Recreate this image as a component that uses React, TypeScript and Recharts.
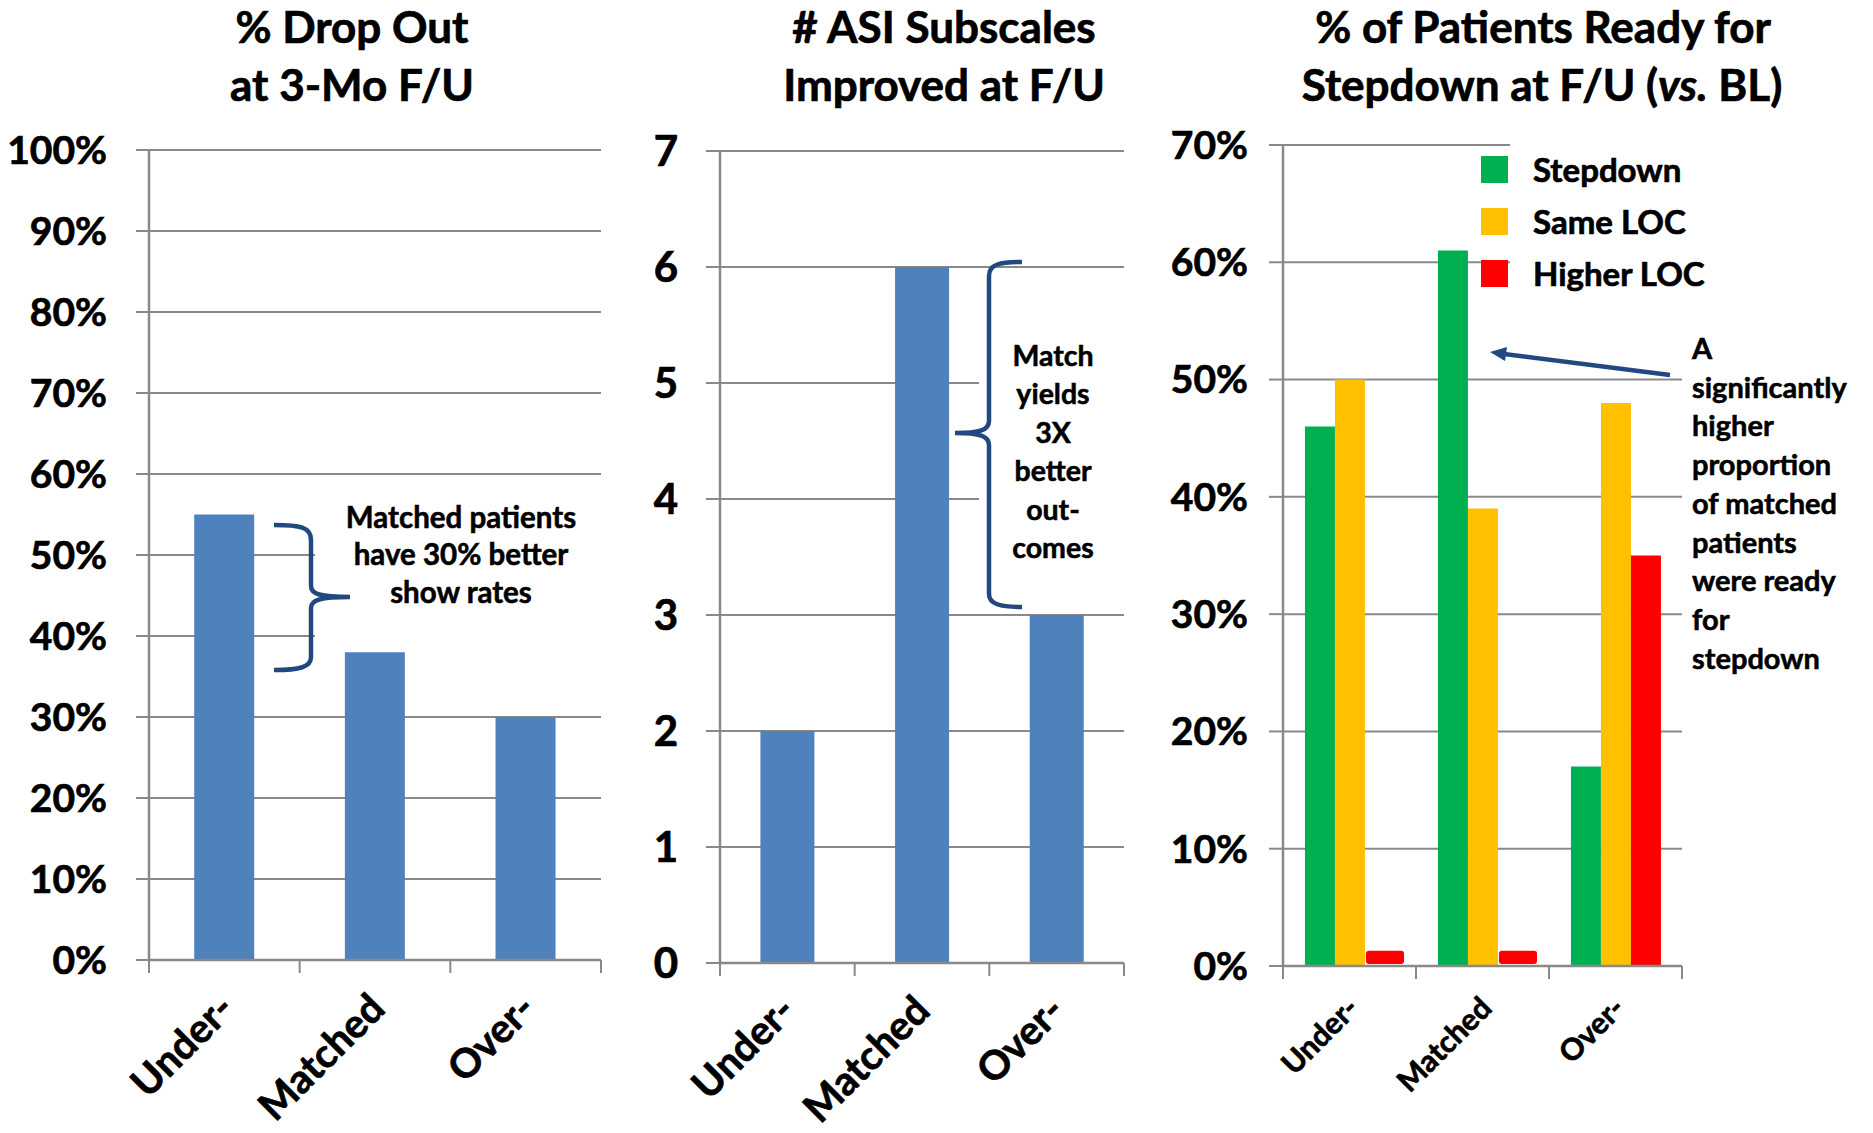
import React from 'react';
import { BarChart, Bar, XAxis, YAxis, CartesianGrid, Legend } from 'recharts';

const categories = ['Under-', 'Matched', 'Over-'];
const dropOut = [55, 38, 30];
const asiImproved = [2, 6, 3];
const stepdown = [46, 61, 17];
const sameLoc = [50, 39, 48];
const higherLoc = [1.3, 1.3, 35];
const stepSeries = ['Stepdown', 'Same LOC', 'Higher LOC'];

const pctTicks100 = [0, 10, 20, 30, 40, 50, 60, 70, 80, 90, 100];
const countTicks = [0, 1, 2, 3, 4, 5, 6, 7];
const pctTicks70 = [0, 10, 20, 30, 40, 50, 60, 70];

const GRID = '#898989';
const BLUE = '#4f81bd';
const NAVY = '#21497f';
const FONT = 'Lato, "Open Sans", sans-serif';
const HEAVY = 0.7; // extra stroke to get closer to Calibri Bold weight

const dropData = categories.map((name, i) => ({ name, value: dropOut[i] }));
const asiData = categories.map((name, i) => ({ name, value: asiImproved[i] }));
const stepData = categories.map((name, i) => ({
  name,
  [stepSeries[0]]: stepdown[i],
  [stepSeries[1]]: sameLoc[i],
  [stepSeries[2]]: higherLoc[i],
}));

function makeXTick(band: number, fontSize: number, dx: number, dy: number) {
  return (props: any) => {
    const { x, y, payload, index } = props;
    return (
      <g>
        <line x1={x - band / 2} y1={y} x2={x - band / 2} y2={y + 13} stroke={GRID} strokeWidth={2} />
        {index === categories.length - 1 && (
          <line x1={x + band / 2} y1={y} x2={x + band / 2} y2={y + 13} stroke={GRID} strokeWidth={2} />
        )}
        <text
          transform={`translate(${x + dx},${y + dy}) rotate(-45)`}
          textAnchor="end"
          fontSize={fontSize}
          fontWeight={700}
          fill="#000"
          stroke="#000"
          strokeWidth={HEAVY}
        >
          {payload.value}
        </text>
      </g>
    );
  };
}

// tiny values are drawn as a small rounded tab, like the original slide
function HigherShape(props: any) {
  const { x, y, width, height, fill, value } = props;
  const v = Array.isArray(value) ? value[1] - value[0] : value;
  if (v < 5) {
    return <rect x={x + 1} y={y} width={width * 1.27} height={Math.max(height - 2, 1)} rx={3} fill={fill} />;
  }
  return <rect x={x} y={y} width={width} height={height} fill={fill} />;
}

function StepLegend(props: any) {
  const payload = [...(props.payload || [])].sort(
    (a: any, b: any) => stepSeries.indexOf(a.value) - stepSeries.indexOf(b.value),
  );
  return (
    <div style={{ position: 'relative', width: 360, height: 160 }}>
      <div style={{ position: 'absolute', left: 29, top: 0, width: 200, height: 160, background: '#fff' }} />
      {payload.map((p: any, i: number) => (
        <div
          key={p.value}
          style={{
            position: 'absolute',
            left: 0,
            top: 3 + i * 52,
            height: 52,
            display: 'flex',
            alignItems: 'center',
          }}
        >
          <div style={{ width: 27, height: 27, background: p.color }} />
          <span
            style={{
              marginLeft: 25,
              fontSize: 33,
              fontWeight: 700,
              color: '#000',
              whiteSpace: 'nowrap',
              WebkitTextStroke: `${HEAVY}px #000`,
            }}
          >
            {p.value}
          </span>
        </div>
      ))}
    </div>
  );
}

const tickStyle = (size: number) => ({
  fontSize: size,
  fontWeight: 700,
  fill: '#000',
  stroke: '#000',
  strokeWidth: HEAVY,
  fontFamily: FONT,
});

export default function App() {
  return (
    <div
      style={{
        position: 'absolute',
        left: 0,
        top: 0,
        width: 1873,
        height: 1133,
        background: '#fff',
        fontFamily: FONT,
        overflow: 'hidden',
      }}
    >
      <div style={{ position: 'absolute', left: 0, top: 0 }}>
        <BarChart width={640} height={1133} data={dropData} margin={{ top: 150, right: 39, bottom: 0, left: 0 }} barCategoryGap="30%">
          <CartesianGrid horizontal vertical={false} stroke={GRID} strokeWidth={2} />
          <XAxis
            dataKey="name"
            interval={0}
            height={173}
            tickLine={false}
            tickSize={0}
            tickMargin={0}
            axisLine={{ stroke: GRID, strokeWidth: 2.5 }}
            tick={makeXTick(452 / 3, 40, 12, 51)}
          />
          <YAxis
            width={149}
            domain={[0, 100]}
            ticks={pctTicks100}
            interval={0}
            tickFormatter={(v) => `${v}%`}
            tickSize={13}
            tickMargin={29}
            tickLine={{ stroke: GRID, strokeWidth: 2 }}
            axisLine={{ stroke: GRID, strokeWidth: 2.5 }}
            tick={tickStyle(39)}
          />
          <Bar dataKey="value" fill={BLUE} isAnimationActive={false} />
        </BarChart>
      </div>

      <div style={{ position: 'absolute', left: 640, top: 0 }}>
        <BarChart width={520} height={1133} data={asiData} margin={{ top: 151, right: 36, bottom: 0, left: 0 }} barCategoryGap="30%">
          <CartesianGrid horizontal vertical={false} stroke={GRID} strokeWidth={2} />
          <XAxis
            dataKey="name"
            interval={0}
            height={170}
            tickLine={false}
            tickSize={0}
            tickMargin={0}
            axisLine={{ stroke: GRID, strokeWidth: 2.5 }}
            tick={makeXTick(404 / 3, 40, 10, 50)}
          />
          <YAxis
            width={80}
            domain={[0, 7]}
            ticks={countTicks}
            interval={0}
            tickSize={14}
            tickMargin={28}
            tickLine={{ stroke: GRID, strokeWidth: 2 }}
            axisLine={{ stroke: GRID, strokeWidth: 2.5 }}
            tick={tickStyle(42)}
          />
          <Bar dataKey="value" fill={BLUE} isAnimationActive={false} />
        </BarChart>
      </div>

      <div style={{ position: 'absolute', left: 1160, top: 0 }}>
        <BarChart
          width={713}
          height={1133}
          data={stepData}
          margin={{ top: 145, right: 191, bottom: 0, left: 0 }}
          barCategoryGap="16.5%"
          barGap={0}
        >
          <CartesianGrid horizontal vertical={false} stroke={GRID} strokeWidth={2} />
          <XAxis
            dataKey="name"
            interval={0}
            height={167}
            tickLine={false}
            tickSize={0}
            tickMargin={0}
            axisLine={{ stroke: GRID, strokeWidth: 2.5 }}
            tick={makeXTick(399 / 3, 30, 11, 44)}
          />
          <YAxis
            width={123}
            domain={[0, 70]}
            ticks={pctTicks70}
            interval={0}
            tickFormatter={(v) => `${v}%`}
            tickSize={14}
            tickMargin={21}
            tickLine={{ stroke: GRID, strokeWidth: 2 }}
            axisLine={{ stroke: GRID, strokeWidth: 2.5 }}
            tick={tickStyle(39)}
          />
          <Legend
            layout="vertical"
            align="center"
            verticalAlign="middle"
            wrapperStyle={{ left: 321, top: 140, width: 360, height: 160 }}
            content={<StepLegend />}
          />
          <Bar dataKey={stepSeries[0]} fill="#00b050" isAnimationActive={false} />
          <Bar dataKey={stepSeries[1]} fill="#ffc000" isAnimationActive={false} />
          <Bar dataKey={stepSeries[2]} fill="#ff0000" shape={<HigherShape />} isAnimationActive={false} />
        </BarChart>
      </div>

      <svg
        width={1873}
        height={1133}
        style={{ position: 'absolute', left: 0, top: 0, pointerEvents: 'none' }}
        fontFamily={FONT}
        fontWeight={700}
      >
        {/* titles */}
        <g fontSize={44} textAnchor="middle" fill="#000" stroke="#000" strokeWidth={HEAVY}>
          <text x={352} y={43}>% Drop Out</text>
          <text x={352} y={101}>at 3-Mo F/U</text>
          <text x={944} y={43}># ASI Subscales</text>
          <text x={944} y={101}>Improved at F/U</text>
          <text x={1543} y={43}>% of Patients Ready for</text>
          <text x={1542} y={101}>
            Stepdown at F/U (<tspan fontStyle="italic">vs.</tspan> BL)
          </text>
        </g>

        {/* panel 1 note */}
        <rect x={315} y={490} width={300} height={155} fill="#fff" />
        <path
          d="M274,525 C300,525 311,527 311,540 L311,586 C311,594 320,597 350,597 C320,597 311,600 311,608 L311,657 C311,667 300,670 274,670"
          fill="none"
          stroke={NAVY}
          strokeWidth={4.5}
        />
        <g fontSize={29.5} textAnchor="middle" fill="#000" stroke="#000" strokeWidth={HEAVY * 0.8}>
          <text x={461} y={528}>Matched patients</text>
          <text x={461} y={565}>have 30% better</text>
          <text x={461} y={603}>show rates</text>
        </g>

        {/* panel 2 note */}
        <rect x={979} y={290} width={150} height={300} fill="#fff" />
        <path
          d="M1022,262 C1000,262 989,264 989,276 L989,421 C989,430 980,433 955,433 C980,433 989,436 989,445 L989,594 C989,604 1000,607 1022,607"
          fill="none"
          stroke={NAVY}
          strokeWidth={4.5}
        />
        <g fontSize={28.5} textAnchor="middle" fill="#000" stroke="#000" strokeWidth={HEAVY * 0.8}>
          {['Match', 'yields', '3X', 'better', 'out-', 'comes'].map((t, i) => (
            <text key={t} x={1053} y={366 + i * 38.4}>
              {t}
            </text>
          ))}
        </g>

        {/* panel 3 note */}
        <line x1={1670} y1={375} x2={1504} y2={354} stroke={NAVY} strokeWidth={4.5} />
        <polygon points="1490,352 1507,347 1505,361" fill={NAVY} />
        <g fontSize={29} fill="#000" stroke="#000" strokeWidth={HEAVY * 0.8}>
          {[
            'A',
            'significantly',
            'higher',
            'proportion',
            'of matched',
            'patients',
            'were ready',
            'for',
            'stepdown',
          ].map((t, i) => (
            <text key={t} x={1692} y={359 + i * 38.7}>
              {t}
            </text>
          ))}
        </g>
      </svg>
    </div>
  );
}
